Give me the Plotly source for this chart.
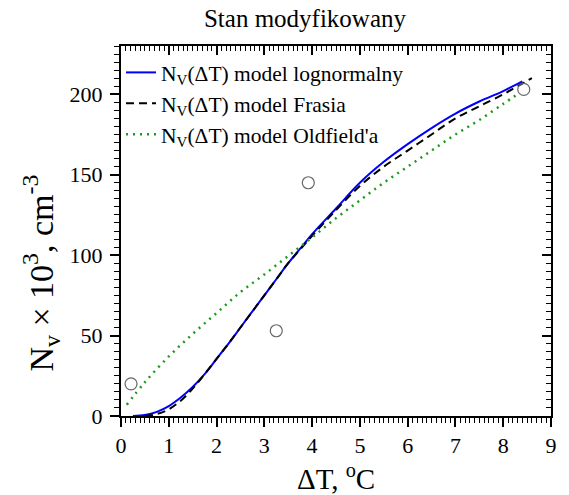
import plotly.graph_objects as go

# Experimental points
pts_x = [0.21, 3.25, 3.92, 8.43]
pts_y = [20, 53, 145, 203]

# Lognormal model
logn_x = [0.25, 0.5, 0.75, 1.0, 1.25, 1.5, 1.75, 2.0, 2.25, 2.5, 2.75, 3.0, 3.25, 3.5, 3.75, 4.0,
          4.5, 5.0, 5.5, 6.0, 6.5, 7.0, 7.5, 8.0, 8.4]
logn_y = [0, 0.6, 2.6, 6.2, 11.5, 18, 26, 35.5, 45, 55, 65, 75, 85, 95, 104, 113,
          129, 145, 158, 169, 179, 188, 195.5, 202, 208]

# Frasia model
fras_x = [0.5, 0.75, 1.0, 1.25, 1.5, 1.75, 2.0, 2.25, 2.5, 2.75, 3.0, 3.25, 3.5, 3.75, 4.0,
          4.5, 5.0, 5.5, 6.0, 6.5, 7.0, 7.5, 8.0, 8.3, 8.6]
fras_y = [0, 1.2, 4.2, 9.5, 17, 26, 35.5, 45, 55, 65, 75, 85, 95, 103.5, 112,
          128, 143, 155, 165, 175, 185, 192.5, 200, 205, 210]

# Oldfield model
old_x = [0.12, 0.5, 1.0, 1.5, 2.0, 2.5, 3.0, 3.5, 4.0, 4.5, 5.0, 5.5, 6.0, 6.5, 7.0, 7.5, 8.0, 8.35]
old_y = [7, 21, 37, 51, 64, 77, 88, 99.5, 111, 123, 134, 145, 155, 165, 175, 184, 194, 201]

FONT = "Liberation Serif"
TC = "black"

fig = go.Figure()
fig.add_trace(go.Scatter(x=logn_x, y=logn_y, mode="lines", line=dict(color="#0000ff", width=2, shape="spline"),
                         name="N<sub>V</sub>(ΔT) model lognormalny"))
fig.add_trace(go.Scatter(x=fras_x, y=fras_y, mode="lines", line=dict(color="black", width=2, dash="8px,5px", shape="spline"),
                         name="N<sub>V</sub>(ΔT) model Frasia"))
fig.add_trace(go.Scatter(x=old_x, y=old_y, mode="lines", line=dict(color="#1a9a1a", width=2.5, dash="2px,5px", shape="spline"),
                         name="N<sub>V</sub>(ΔT) model Oldfield'a"))
fig.add_trace(go.Scatter(x=pts_x, y=pts_y, mode="markers", showlegend=False,
                         marker=dict(symbol="circle-open", size=12, color="#666666", line=dict(width=1.2))))
fig.add_trace(go.Scatter(x=[0], y=[0], xaxis="x2", yaxis="y2", mode="markers",
                         marker=dict(opacity=0), showlegend=False, hoverinfo="skip"))

fig.update_layout(
    width=569, height=495,
    margin=dict(l=121, r=13, t=46, b=79),
    paper_bgcolor="white", plot_bgcolor="white",
    font=dict(family=FONT, color="black"),
    title=dict(text="Stan modyfikowany", x=0.536, xanchor="center", y=0.963, yanchor="middle",
               font=dict(size=25, family=FONT)),
    xaxis=dict(range=[0, 9], dtick=1, ticks="outside", ticklen=9, tickwidth=1.5, tickcolor=TC,
               showline=True, linecolor="black", linewidth=2, showgrid=False, zeroline=False,
               minor=dict(dtick=0.1, ticks="outside", ticklen=5, tickwidth=1, tickcolor=TC, showgrid=False),
               tickfont=dict(size=22)),
    yaxis=dict(range=[0, 230], dtick=50, ticks="outside", ticklen=9, tickwidth=1.5, tickcolor=TC,
               ticklabelstandoff=3, showline=True, linecolor="black", linewidth=2, showgrid=False, zeroline=False,
               minor=dict(dtick=5, ticks="outside", ticklen=5, tickwidth=1, tickcolor=TC, showgrid=False),
               tickfont=dict(size=22)),
    xaxis2=dict(range=[0, 9], overlaying="x", side="top", anchor="y2", dtick=1, ticks="inside", ticklen=9,
                tickwidth=1.5, tickcolor=TC, showline=True, linecolor="black", linewidth=2,
                showgrid=False, zeroline=False, showticklabels=False,
                minor=dict(dtick=0.1, ticks="inside", ticklen=5, tickwidth=1, tickcolor=TC, showgrid=False)),
    yaxis2=dict(range=[0, 230], overlaying="y", side="right", anchor="x2", dtick=50, ticks="inside", ticklen=9,
                tickwidth=1.5, tickcolor=TC, showline=True, linecolor="black", linewidth=2,
                showgrid=False, zeroline=False, showticklabels=False,
                minor=dict(dtick=5, ticks="inside", ticklen=5, tickwidth=1, tickcolor=TC, showgrid=False)),
    legend=dict(x=0.0, y=0.984, xanchor="left", yanchor="top", bgcolor="rgba(0,0,0,0)",
                font=dict(size=21.5, family=FONT), itemwidth=30, tracegroupgap=0),
    showlegend=True,
)
fig.add_annotation(text="N<sub>v</sub> × 10<sup>3</sup>, cm<sup>-3</sup>", textangle=-90,
                   xref="paper", yref="paper", x=-0.186, y=0.385, xanchor="center", yanchor="middle",
                   showarrow=False, font=dict(size=34, family=FONT))
fig.add_annotation(text="ΔT, <sup>o</sup>C", xref="paper", yref="paper", x=0.5, y=-0.165,
                   xanchor="center", yanchor="middle", showarrow=False, font=dict(size=29, family=FONT))

fig.write_html("out.html", config={"displayModeBar": False},
               post_script="document.body.style.margin='0px';")
